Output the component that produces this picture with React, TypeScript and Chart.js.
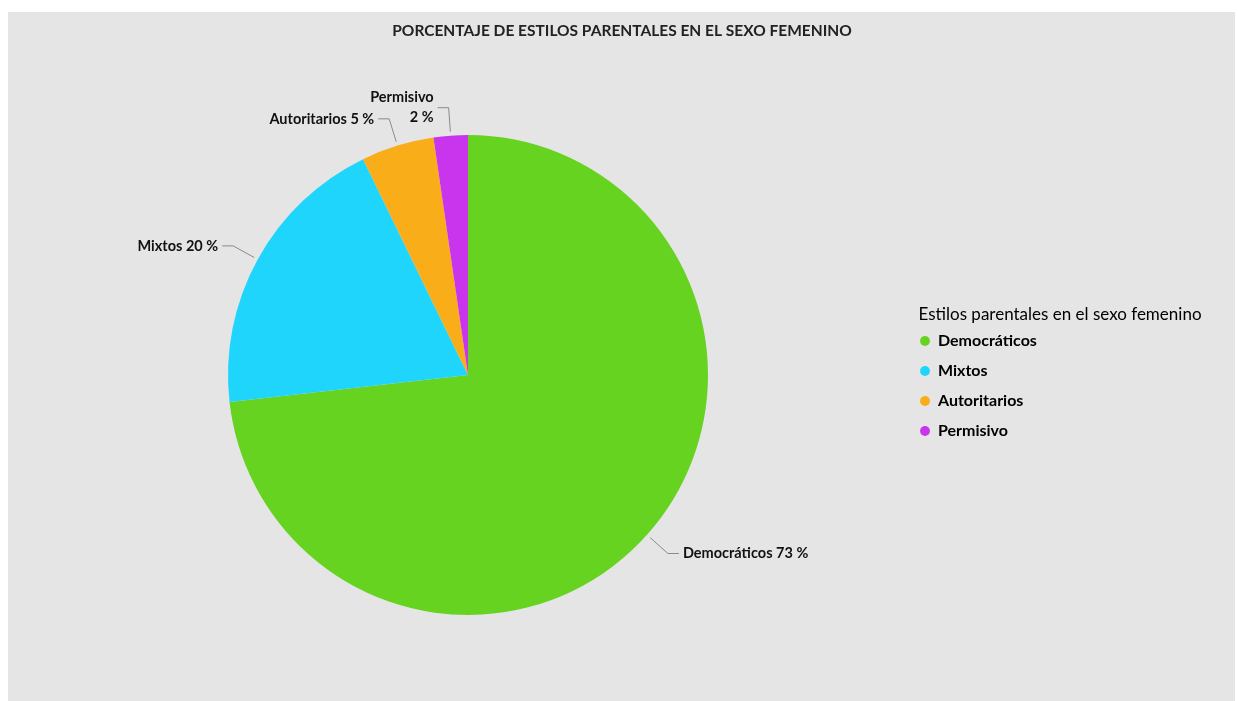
import React, { useEffect, useRef } from 'react';
import { Chart, registerables } from 'chart.js';

Chart.register(...registerables);

// ---- data ----
const categories = ['Democráticos', 'Mixtos', 'Autoritarios', 'Permisivo'];
const percentages = [73.2, 19.6, 4.9, 2.3];
const sliceColors = ['#66d321', '#20d5fc', '#f8ad19', '#c935ec'];
const wrappedLabels = ['Permisivo'];
const chartTitle = 'PORCENTAJE DE ESTILOS PARENTALES EN EL SEXO FEMENINO';
const legendTitle = 'Estilos parentales en el sexo femenino';

// ---- layout constants ----
const CANVAS_W = 1227;
const CANVAS_H = 689;
const LEGEND_BOX_WIDTH = 308;
const FONT = 'Lato';

export default function App() {
  const ref = useRef<HTMLCanvasElement>(null);

  useEffect(() => {
    const canvas = ref.current;
    if (!canvas) return;

    const legendWidthPlugin = {
      id: 'legendWidth',
      beforeLayout(chart: any) {
        const lg = chart.legend;
        if (lg && !lg._widthPatched) {
          const orig = lg.fit;
          lg.fit = function () {
            orig.call(this);
            this.width = LEGEND_BOX_WIDTH;
          };
          lg._widthPatched = true;
        }
      },
    };

    const leaderPlugin = {
      id: 'leaderLabels',
      afterDatasetsDraw(chart: any) {
        const ctx = chart.ctx;
        const meta = chart.getDatasetMeta(0);
        meta.data.forEach((arc: any, i: number) => {
          const { x, y, startAngle, endAngle, outerRadius } = arc.getProps(
            ['x', 'y', 'startAngle', 'endAngle', 'outerRadius'],
            true
          );
          const mid = (startAngle + endAngle) / 2;
          const c = Math.cos(mid);
          const s = Math.sin(mid);
          const sx = x + c * (outerRadius + 4);
          const sy = y + s * (outerRadius + 4);
          const ex = x + c * (outerRadius + 28);
          const ey = y + s * (outerRadius + 28);
          const dir = c >= 0 ? 1 : -1;
          const hx = ex + dir * 11;
          ctx.save();
          ctx.strokeStyle = '#8a8a8a';
          ctx.lineWidth = 1;
          ctx.beginPath();
          ctx.moveTo(sx, sy);
          ctx.lineTo(ex, ey);
          ctx.lineTo(hx, ey);
          ctx.stroke();
          ctx.font = `bold 14.5px ${FONT}`;
          ctx.fillStyle = '#111';
          ctx.textAlign = dir > 0 ? 'left' : 'right';
          ctx.textBaseline = 'middle';
          const name = categories[i];
          const pct = `${Math.round(percentages[i])} %`;
          const tx = hx + dir * 4;
          if (wrappedLabels.includes(name)) {
            ctx.fillText(name, tx, ey - 10);
            ctx.fillText(pct, tx, ey + 10);
          } else {
            ctx.fillText(`${name} ${pct}`, tx, ey);
          }
          ctx.restore();
        });
      },
    };

    const chart = new Chart(canvas, {
      type: 'pie',
      data: {
        labels: categories,
        datasets: [
          {
            data: percentages,
            backgroundColor: sliceColors,
            borderWidth: 0,
            hoverOffset: 0,
            offset: 0,
          },
        ],
      },
      options: {
        responsive: false,
        animation: false,
        events: [],
        layout: { padding: { left: 22, right: 21, top: 0, bottom: 86 } },
        plugins: {
          title: {
            display: true,
            text: chartTitle,
            color: '#222',
            font: { family: FONT, size: 15.5, weight: 'bold' },
            padding: { top: 9.7, bottom: 94.7 },
          },
          legend: {
            position: 'right',
            align: 'center',
            title: {
              display: true,
              text: legendTitle,
              position: 'center',
              color: '#000',
              font: { family: FONT, size: 17, weight: 'normal' },
              padding: { top: 132.5, bottom: -7.9 },
            },
            labels: {
              usePointStyle: true,
              pointStyle: 'circle',
              boxWidth: 10,
              boxHeight: 7,
              padding: 14,
              color: '#000',
              font: { family: FONT, size: 16, weight: 'bold' },
            },
          },
          tooltip: { enabled: false },
        },
      },
      plugins: [legendWidthPlugin, leaderPlugin],
    } as any);

    return () => chart.destroy();
  }, []);

  return (
    <div
      style={{
        position: 'absolute',
        left: 8,
        top: 12,
        width: CANVAS_W,
        height: CANVAS_H,
        background: '#e5e5e5',
      }}
    >
      <canvas ref={ref} width={CANVAS_W} height={CANVAS_H} style={{ display: 'block' }} />
    </div>
  );
}
